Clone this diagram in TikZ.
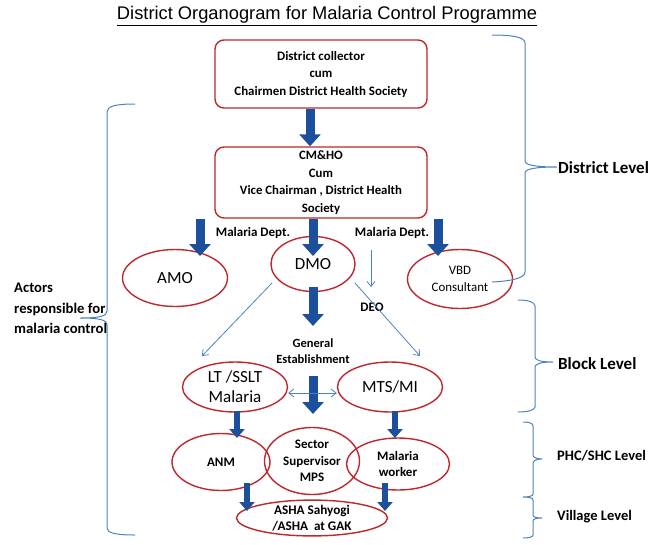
\documentclass[tikz,border=0pt]{standalone}
\usepackage{fontspec}
\setmainfont{Carlito}
\newfontfamily\arialf{Liberation Sans}
\usetikzlibrary{shapes.geometric,arrows.meta}
\definecolor{redc}{RGB}{192,38,45}
\definecolor{fatblue}{RGB}{28,80,156}
\definecolor{thinblue}{RGB}{79,129,189}
\tikzset{
  box/.style={draw=redc,line width=1.4pt,rounded corners=9pt,minimum width=212pt,align=center,inner sep=0pt},
  ell/.style={ellipse,draw=redc,line width=1.4pt,inner sep=0pt,align=center},
  fat/.style={draw=fatblue,line width=9pt,-{Triangle[length=12pt,width=21pt]}},
  fatsmall/.style={draw=fatblue,line width=6.5pt,-{Triangle[length=9pt,width=15pt]}},
  thin/.style={draw=thinblue,line width=0.8pt,-{Straight Barb[length=5pt,width=8pt]}},
  thinboth/.style={draw=thinblue,line width=0.8pt,{Straight Barb[length=5pt,width=8pt]}-{Straight Barb[length=5pt,width=8pt]}},
  brace/.style={draw=thinblue,line width=1pt},
  lbl/.style={inner sep=0pt,font=\bfseries\fontsize{13}{15}\selectfont},
  side/.style={anchor=west,inner sep=0pt},
}
\begin{document}
\begin{tikzpicture}[x=1pt,y=-1pt]
\useasboundingbox (0,0) rectangle (650,544);
% title
\node[inner sep=0pt,font=\arialf\fontsize{18.3}{21}\selectfont] (title) at (327,16) {\underline{District Organogram for Malaria Control Programme}};
% boxes
\node[box,minimum height=68pt,font=\bfseries\fontsize{12.9}{17.5}\selectfont] (b1) at (321,74) {District collector\\cum\\Chairmen District Health Society};
\node[box,minimum height=71pt,font=\bfseries\fontsize{12.8}{17.6}\selectfont] (b2) at (321,182.5) {CM\&HO\\Cum\\Vice Chairman , District Health\\Society};
% ellipses
\node[ell,minimum width=105pt,minimum height=57pt,font=\fontsize{17}{20}\selectfont] (amo) at (175,278) {AMO};
\node[ell,minimum width=84pt,minimum height=55pt,font=\fontsize{17}{20}\selectfont] (dmo) at (313,264) {DMO};
\node[ell,minimum width=105pt,minimum height=59pt,font=\fontsize{12.9}{17}\selectfont] (vbd) at (460,279) {VBD\\Consultant};
\node[ell,minimum width=105pt,minimum height=50pt,font=\fontsize{17}{20}\selectfont] (lt) at (235,387) {LT /SSLT\\Malaria};
\node[ell,minimum width=105pt,minimum height=50pt,font=\fontsize{17}{20}\selectfont] (mts) at (390,387) {MTS/MI};
\node[ell,minimum width=98pt,minimum height=57pt,font=\bfseries\fontsize{13}{16}\selectfont] (anm) at (221,462) {ANM};
\node[ell,minimum width=95pt,minimum height=67pt,font=\bfseries\fontsize{13}{16.5}\selectfont] (sec) at (312,461) {Sector\\Supervisor\\MPS};
\node[ell,minimum width=103pt,minimum height=52pt,font=\bfseries\fontsize{13}{16.5}\selectfont] (mw) at (398,464) {Malaria\\worker};
\node[ell,minimum width=151pt,minimum height=35pt,font=\bfseries\fontsize{13.2}{15.5}\selectfont] (asha) at (312,518) {ASHA Sahyogi\\/ASHA\ \ at GAK};
% labels
\node[lbl] (md1) at (253,233) {Malaria Dept.};
\node[lbl] (md2) at (392,233) {Malaria Dept.};
\node[lbl] (deo) at (372,307) {DEO};
\node[lbl,align=center,font=\bfseries\fontsize{12.5}{16.5}\selectfont] (ge) at (313,351) {General\\Establishment};
% coordinates for arrows
\coordinate (amoTop) at (200,256);
\coordinate (dmoTop) at (313,256);
\coordinate (vbdTop) at (438,256);
\coordinate (dmoBot) at (313,287);
\coordinate (geTop) at (313,326);
\coordinate (geBot) at (313,376);
\coordinate (secTop) at (313,414);
\coordinate (ltBot) at (237,411);
\coordinate (anmTop) at (237,438);
\coordinate (mtsBot) at (395,411);
\coordinate (mwTop) at (395,438);
\coordinate (anmBot) at (247,483);
\coordinate (ashaL) at (247,511);
\coordinate (mwBot) at (385,483);
\coordinate (ashaR) at (385,511);
\coordinate (deoTop) at (371,250);
\coordinate (deoEnd) at (371,287);
\coordinate (dmoL) at (272,283);
\coordinate (ltTop) at (202,356);
\coordinate (dmoR) at (355,283);
\coordinate (mtsTop) at (420,356);
% thick arrows
\draw[fat] (b1.south -| 310,0) -- (b2.north -| 310,0);
\draw[fat] (b2.south -| amoTop) -- (amoTop);
\draw[fat] (b2.south -| dmoTop) -- (dmoTop);
\draw[fat] (b2.south -| vbdTop) -- (vbdTop);
\draw[fat] (dmoBot) -- (geTop);
\draw[fat] (geBot) -- (secTop);
\draw[fatsmall] (ltBot) -- (anmTop);
\draw[fatsmall] (mtsBot) -- (mwTop);
\draw[fatsmall] (anmBot) -- (ashaL);
\draw[fatsmall] (mwBot) -- (ashaR);
% thin arrows
\draw[thin] (deoTop) -- (deoEnd);
\draw[thin] (dmoL) -- (ltTop);
\draw[thin] (dmoR) -- (mtsTop);
\draw[thinboth] (lt.east) ++(0,6) coordinate (l1) -- (mts.west |- l1);
% braces
\draw[brace] (135,104) .. controls (116,104) and (107,106) .. (107,112) -- (107,311) .. controls (107,316) and (100,318) .. (80,318) .. controls (100,318) and (107,320) .. (107,325) -- (107,528) .. controls (107,533) and (116,535) .. (135,535);
\draw[brace] (492,35) .. controls (512,35) and (525,37) .. (525,43) -- (525,161) .. controls (525,165) and (535,167) .. (557,167) .. controls (535,167) and (525,169) .. (525,173) -- (525,272) .. controls (525,278) and (512,281) .. (492,282);
\draw[brace] (518,300) .. controls (528,300) and (535,302) .. (535,306) -- (535,357) .. controls (535,360) and (540,362) .. (553,362) .. controls (540,362) and (535,364) .. (535,367) -- (535,407) .. controls (535,410) and (528,412) .. (518,412);
\draw[brace] (523,422) .. controls (529,422) and (533,423) .. (533,426) -- (533,455) .. controls (533,457) and (536,459) .. (542,459) .. controls (536,459) and (533,461) .. (533,463) -- (533,494) .. controls (533,496) and (529,497) .. (523,497) .. controls (529,497) and (533,498) .. (533,500) -- (533,515) .. controls (533,517) and (536,518) .. (542,518) .. controls (536,518) and (533,519) .. (533,521) -- (533,535) .. controls (533,537) and (529,538) .. (523,538);
% side labels
\node[side,font=\bfseries\fontsize{17}{20}\selectfont] (dl) at (558,168) {District Level};
\node[side,font=\bfseries\fontsize{17}{20}\selectfont] (bl) at (558,364) {Block Level};
\node[side,font=\bfseries\fontsize{14.5}{17}\selectfont] (pl) at (557,456) {PHC/SHC Level};
\node[side,font=\bfseries\fontsize{14.5}{17}\selectfont] (vl) at (557,517) {Village Level};
\node[anchor=north west,align=left,inner sep=0pt,font=\bfseries\fontsize{14.7}{20.5}\selectfont] (act) at (14,283) {Actors\\responsible for\\malaria control};
\end{tikzpicture}
\end{document}
